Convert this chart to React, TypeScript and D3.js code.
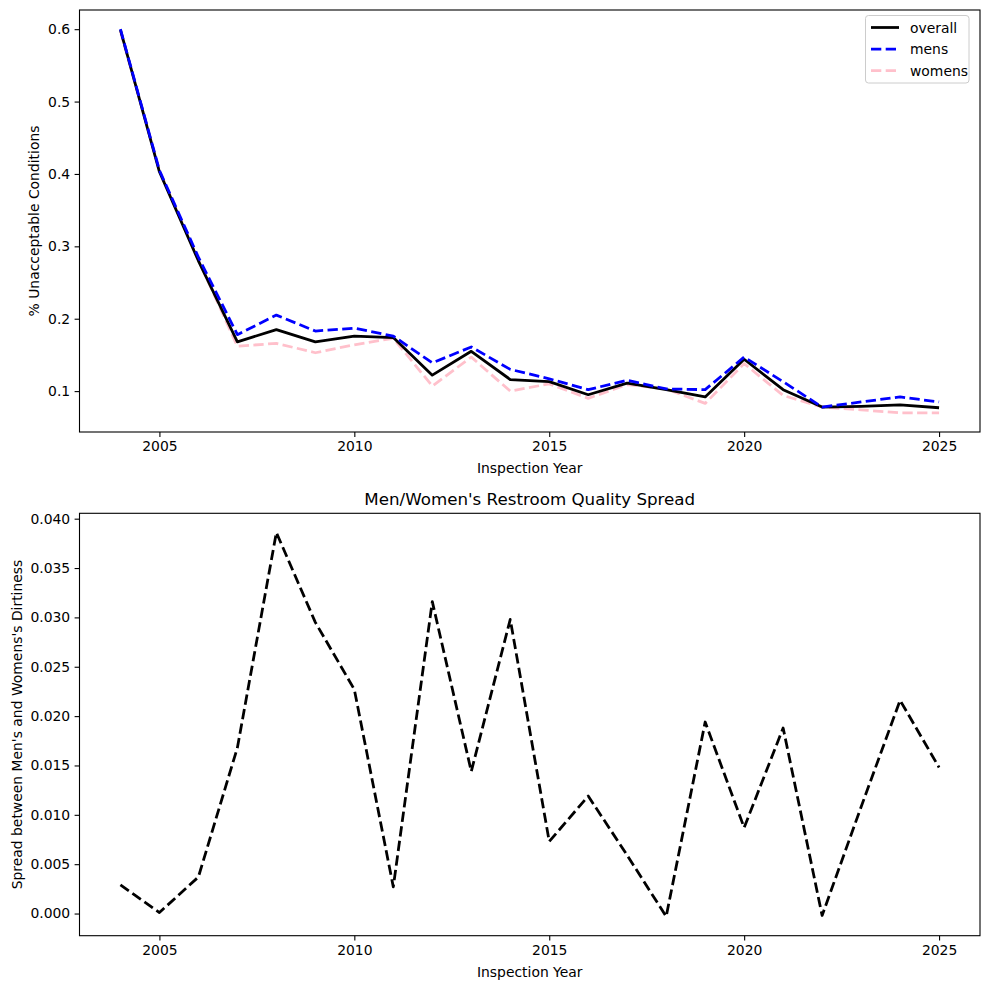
import React, { useEffect, useRef } from "react";
import * as d3 from "d3";

const years = d3.range(2004, 2026);
const overall = [0.599, 0.403, 0.280, 0.168, 0.185, 0.168, 0.176, 0.174, 0.122, 0.155, 0.116, 0.113, 0.095, 0.111, 0.102, 0.092, 0.144, 0.102, 0.078, 0.079, 0.081, 0.077];
const mens = [0.600, 0.405, 0.285, 0.178, 0.205, 0.183, 0.187, 0.176, 0.139, 0.161, 0.130, 0.117, 0.102, 0.115, 0.103, 0.102, 0.147, 0.113, 0.078, 0.085, 0.092, 0.085];
const womens = [0.597, 0.405, 0.281, 0.162, 0.166, 0.153, 0.164, 0.173, 0.107, 0.147, 0.100, 0.110, 0.090, 0.109, 0.103, 0.083, 0.138, 0.094, 0.078, 0.074, 0.070, 0.070];
const spread = [0.0029, 0.0001, 0.0037, 0.0168, 0.0386, 0.0295, 0.0227, 0.0027, 0.0316, 0.0144, 0.0298, 0.0073, 0.0119, 0.0059, -0.0003, 0.0194, 0.0087, 0.0188, -0.0002, 0.0108, 0.0216, 0.0148];
const xTicks = [2005, 2010, 2015, 2020, 2025];
const topYTicks = [0.1, 0.2, 0.3, 0.4, 0.5, 0.6];
const botYTicks = [0, 0.005, 0.01, 0.015, 0.02, 0.025, 0.03, 0.035, 0.04];

const W = 990, H = 989;
const FONT = "DejaVu Sans, sans-serif";
const FS = 13.9;
const LW = 2.78;
const DASH = "10.3,4.4";

function padDomain(vals: number[]): [number, number] {
  const [lo, hi] = d3.extent(vals) as [number, number];
  const m = (hi - lo) * 0.05;
  return [lo - m, hi + m];
}

export default function App() {
  const ref = useRef<SVGSVGElement>(null);
  useEffect(() => {
    const svg = d3.select(ref.current);
    svg.selectAll("*").remove();
    svg.append("rect").attr("width", W).attr("height", H).attr("fill", "white");

    const left = 79.5, right = 980;
    const x = d3.scaleLinear().domain(padDomain(years)).range([left, right]);

    function drawAxes(top: number, bottom: number, y: d3.ScaleLinear<number, number>, yTicks: number[], yFmt: (v: number) => string, ylabel: string, ylabelX: number) {
      const g = svg.append("g");
      const xa = g.append("g").attr("transform", `translate(0,${bottom})`)
        .call(d3.axisBottom(x).tickValues(xTicks).tickFormat(d3.format("d")).tickSize(4.9).tickPadding(4.4));
      const ya = g.append("g").attr("transform", `translate(${left},0)`)
        .call(d3.axisLeft(y).tickValues(yTicks).tickFormat(yFmt as any).tickSize(4.9).tickPadding(4.4));
      [xa, ya].forEach((a) => {
        a.select(".domain").remove();
        a.selectAll("line").attr("stroke", "black").attr("stroke-width", 1.1);
        a.selectAll("text").attr("font-family", FONT).attr("font-size", FS).attr("fill", "black");
      });
      g.append("rect").attr("x", left).attr("y", top).attr("width", right - left).attr("height", bottom - top)
        .attr("fill", "none").attr("stroke", "black").attr("stroke-width", 1.1);
      g.append("text").attr("x", (left + right) / 2).attr("y", bottom + 41)
        .attr("text-anchor", "middle").attr("font-family", FONT).attr("font-size", FS).text("Inspection Year");
      g.append("text").attr("transform", `translate(${ylabelX},${(top + bottom) / 2}) rotate(-90)`)
        .attr("text-anchor", "middle").attr("dominant-baseline", "central").attr("font-family", FONT).attr("font-size", FS).text(ylabel);
    }

    // Top chart
    const t0 = 10, t1 = 432;
    const yT = d3.scaleLinear().domain(padDomain([...overall, ...mens, ...womens])).range([t1, t0]);
    drawAxes(t0, t1, yT, topYTicks, d3.format(".1f"), "% Unacceptable Conditions", 34);
    const clipT = svg.append("clipPath").attr("id", "clipT").append("rect").attr("x", left).attr("y", t0).attr("width", right - left).attr("height", t1 - t0);
    const lineT = (vals: number[]) => d3.line<number>().x((_, i) => x(years[i])).y((v) => yT(v))(vals);
    const series = [
      { name: "womens", vals: womens, color: "pink", dash: DASH },
      { name: "overall", vals: overall, color: "black", dash: null },
      { name: "mens", vals: mens, color: "blue", dash: DASH },
    ];
    const gl = svg.append("g").attr("clip-path", "url(#clipT)");
    series.forEach((s) => {
      gl.append("path").attr("d", lineT(s.vals)).attr("fill", "none").attr("stroke", s.color)
        .attr("stroke-width", LW).attr("stroke-dasharray", s.dash).attr("stroke-linejoin", "round");
    });

    // Legend
    const lg = svg.append("g");
    lg.append("rect").attr("x", 865.5).attr("y", 15.5).attr("width", 103.5).attr("height", 67.5).attr("rx", 3)
      .attr("fill", "white").attr("fill-opacity", 0.8).attr("stroke", "#cccccc");
    const legendItems = [series[1], series[2], series[0]];
    legendItems.forEach((s, i) => {
      const cy = 27.5 + i * 21.6;
      lg.append("line").attr("x1", 871).attr("x2", 899).attr("y1", cy).attr("y2", cy)
        .attr("stroke", s.color).attr("stroke-width", LW).attr("stroke-dasharray", s.dash);
      lg.append("text").attr("x", 910).attr("y", cy).attr("dominant-baseline", "central")
        .attr("font-family", FONT).attr("font-size", FS).text(s.name);
    });

    // Bottom chart
    const b0 = 513.3, b1 = 935.7;
    const yB = d3.scaleLinear().domain(padDomain(spread)).range([b1, b0]);
    drawAxes(b0, b1, yB, botYTicks, d3.format(".3f"), "Spread between Men's and Womens's Dirtiness", 17);
    svg.append("text").attr("x", (left + right) / 2).attr("y", 505).attr("text-anchor", "middle")
      .attr("font-family", FONT).attr("font-size", 16.7).text("Men/Women's Restroom Quality Spread");
    const lineB = d3.line<number>().x((_, i) => x(years[i])).y((v) => yB(v));
    svg.append("path").attr("d", lineB(spread)).attr("fill", "none").attr("stroke", "black")
      .attr("stroke-width", LW).attr("stroke-dasharray", DASH).attr("stroke-linejoin", "round");
  }, []);
  return <svg ref={ref} width={W} height={H} style={{ position: "absolute", left: 0, top: 0 }} />;
}
